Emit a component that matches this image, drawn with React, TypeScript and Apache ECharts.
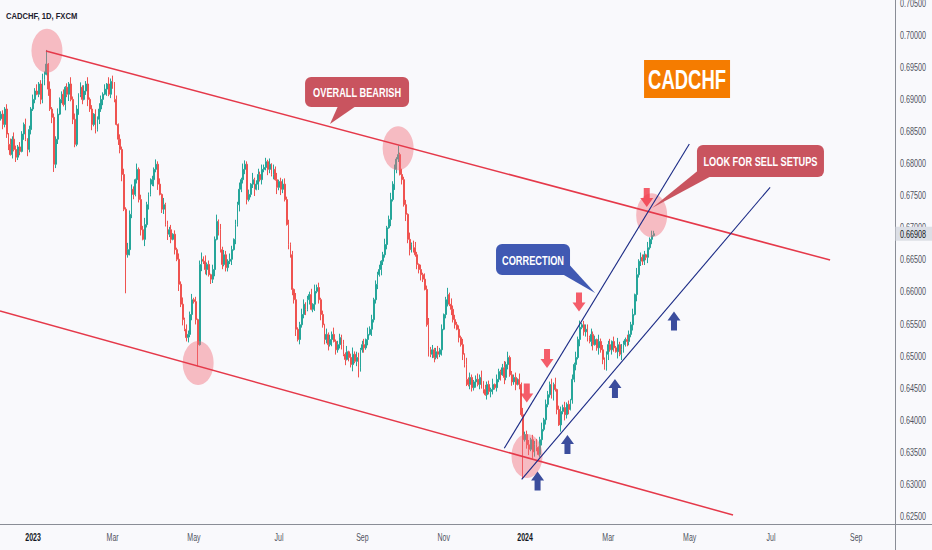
import React, { useEffect, useRef } from "react";
import * as echarts from "echarts";

// ---------- data ----------
// closing prices in pips (x 1e-4), one per trading day starting 2022-12-08
const closesPips = [
  6877, 6861, 6885, 6846, 6830, 6814, 6838, 6822, 6810, 6826,
  6819, 6846, 6861, 6838, 6822, 6853, 6885, 6900, 6913, 6908,
  6924, 6900, 6931, 6939, 6955, 6916, 6885, 6872, 6799, 6838,
  6877, 6900, 6908, 6892, 6919, 6908, 6924, 6900, 6869, 6830,
  6885, 6908, 6919, 6900, 6913, 6924, 6900, 6885, 6861, 6877,
  6853, 6869, 6885, 6900, 6908, 6916, 6924, 6908, 6928, 6924,
  6900, 6861, 6838, 6822, 6783, 6729, 6658, 6666, 6721, 6760,
  6752, 6775, 6791, 6744, 6697, 6682, 6705, 6736, 6752, 6768,
  6775, 6791, 6799, 6768, 6752, 6729, 6736, 6705, 6690, 6697,
  6682, 6690, 6666, 6651, 6612, 6581, 6557, 6542, 6529, 6534,
  6565, 6588, 6585, 6557, 6518, 6643, 6651, 6648, 6635, 6643,
  6627, 6620, 6635, 6682, 6710, 6697, 6666, 6643, 6658, 6638,
  6648, 6651, 6666, 6682, 6705, 6736, 6760, 6775, 6791, 6799,
  6744, 6752, 6768, 6775, 6760, 6768, 6783, 6775, 6791, 6794,
  6803, 6791, 6799, 6783, 6791, 6775, 6763, 6772, 6760, 6768,
  6744, 6705, 6674, 6658, 6604, 6588, 6542, 6526, 6549, 6565,
  6581, 6573, 6588, 6596, 6573, 6581, 6601, 6607, 6588, 6565,
  6549, 6526, 6534, 6518, 6526, 6534, 6523, 6510, 6518, 6529,
  6518, 6503, 6495, 6507, 6498, 6487, 6503, 6492, 6498, 6482,
  6510, 6518, 6513, 6526, 6534, 6542, 6557, 6588, 6612, 6627,
  6635, 6648, 6658, 6674, 6700, 6713, 6744, 6768, 6791, 6807,
  6814, 6783, 6775, 6736, 6721, 6682, 6666, 6674, 6669, 6658,
  6643, 6635, 6627, 6620, 6604, 6549, 6510, 6503, 6510, 6498,
  6507, 6503, 6510, 6542, 6565, 6588, 6596, 6581, 6573, 6557,
  6549, 6542, 6529, 6518, 6503, 6487, 6464, 6456, 6467, 6451,
  6460, 6464, 6456, 6467, 6460, 6448, 6440, 6456, 6445, 6448,
  6456, 6451, 6464, 6476, 6471, 6482, 6467, 6487, 6498, 6471,
  6460, 6467, 6456, 6464, 6456, 6409, 6370, 6378, 6362, 6355,
  6370, 6351, 6362, 6358, 6347, 6370, 6386, 6401, 6425, 6440,
  6456, 6440, 6456, 6448, 6417, 6393, 6414, 6420, 6409, 6425,
  6417, 6432, 6464, 6487, 6498, 6526, 6545, 6549, 6538, 6542,
  6529, 6523, 6534, 6518, 6526, 6513, 6523, 6510, 6495, 6482,
  6503, 6518, 6510, 6523, 6513, 6507, 6518, 6503, 6510, 6518,
  6526, 6523, 6534, 6549, 6565, 6596, 6627, 6648, 6654, 6648,
  6658, 6654, 6669, 6682, 6688, 6690.8,
];
const firstOpenPips = 6870;
// wick lengths, one digit per candle, in units of 1.5 pips
const wickUpDigits =
  "3425163742532614253724635182436235142736415263724153642517362415362745" +
  "3162547326425361724351426372543625147362415372635426415372643517246353" +
  "4261537245635241723652436173524162537244352614736524617352435136247352" +
  "4263517246315264735246251372645342617253246371534261532473624351627345" +
  "2546137254362714536241526372455263417352346152736425436172534162537246";
const wickDownDigits =
  "2534614253416273524135461726345142637253263514736242536172453164725364" +
  "5243617352273614526341527362453625417356254716352443615273455234716253" +
  "3642517364215364725346251372463546271534526143725643526173452643517264" +
  "3152746352546312734525361472634152637254362574153652436173524361527246" +
  "2754136253346251736451436272454256137352362541726325436173544362517245";
const highOverrides: Record<number, number> = { 24: 0.6977, 210: 0.6828 };
const lowOverrides: Record<number, number> = { 28: 0.6787, 66: 0.6598, 104: 0.6484, 189: 0.6467, 276: 0.631 };
const lastPrice = 0.66908;

// time axis labels
const timeLabelDates = [
  "2023-01-02", "2023-03-01", "2023-05-01", "2023-07-03", "2023-09-01", "2023-11-01",
  "2024-01-01", "2024-03-01", "2024-05-01", "2024-07-01", "2024-09-02",
];
const timeLabelTexts = ["2023", "Mar", "May", "Jul", "Sep", "Nov", "2024", "Mar", "May", "Jul", "Sep"];

// price axis
const priceMin = 0.62371;
const priceMax = 0.70548;
const priceStep = 0.005;
const priceTickValues = [
  0.625, 0.63, 0.635, 0.64, 0.645, 0.65, 0.655, 0.66, 0.665,
  0.67, 0.675, 0.68, 0.685, 0.69, 0.695, 0.7, 0.705,
];

// drawings, in [bar index, price]
const resistanceLine = [[23.8, 0.697539], [438.2, 0.664984]];
const supportLine = [[-0.5, 0.65704], [386.9, 0.625265]];
const correctionUpper = [[266.0, 0.635654], [363.8, 0.683053]];
const correctionLower = [[275.2, 0.630826], [406.5, 0.676308]];
const circleCenters = [[24.3, 0.69757], [104.2, 0.64894], [209.9, 0.68238], [278.0, 0.63446], [343.9, 0.67195]];
const sellArrows = [[277.9, 0.64427], [288.6, 0.64964], [305.5, 0.65844], [341.3, 0.67472]];
const buyArrows = [[283.6, 0.63056], [299.4, 0.63625], [324.5, 0.64497], [355.7, 0.65548]];
const calloutTexts = ["OVERALL BEARISH", "CORRECTION", "LOOK FOR SELL SETUPS"];
const calloutAnchors = [[188.2, 0.69115], [281.2, 0.66506], [401.4, 0.68041]];
const calloutTips = [[173.9, 0.68617], [314.0, 0.65984], [344.1, 0.67308]];
const symbolText = "CADCHF";
const symbolAnchor = [362.6, 0.69318];
const chartTitle = "CADCHF, 1D, FXCM";

// ---------- styles / layout ----------
const UP = "#26a69a";
const DOWN = "#ef5350";
const FONT = "'Liberation Sans', Arial, sans-serif";
const LABEL_GREY = "#50535e";
const calloutLayout = [
  { size: [104, 30], fill: "#c9545f", base: [[-19, 14], [-1, 14]] },
  { size: [74, 31], fill: "#4059b3", base: [[30, 15], [37, 6]] },
  { size: [127, 32], fill: "#c9545f", base: [[-63, 10], [-50, 15.5]] },
];

function buildTradingDays(): string[] {
  const out: string[] = [];
  const d = new Date(Date.UTC(2022, 11, 8));
  const end = Date.UTC(2024, 8, 30);
  while (d.getTime() <= end) {
    const wd = d.getUTCDay();
    if (wd !== 0 && wd !== 6) out.push(d.toISOString().slice(0, 10));
    d.setUTCDate(d.getUTCDate() + 1);
  }
  return out;
}

export default function App() {
  const ref = useRef<HTMLDivElement>(null);
  useEffect(() => {
    if (!ref.current) return;
    const chart = echarts.init(ref.current, undefined, { renderer: "svg" });
    const days = buildTradingDays();
    const candles = closesPips.map((c, i) => {
      const open = (i === 0 ? firstOpenPips : closesPips[i - 1]) / 1e4;
      const close = c / 1e4;
      const hi = highOverrides[i] ?? Math.max(open, close) + (Number(wickUpDigits[i]) * 1.5) / 1e4;
      const lo = lowOverrides[i] ?? Math.min(open, close) - (Number(wickDownDigits[i]) * 1.5) / 1e4;
      return [open, close, lo, hi];
    });
    const lineSeries = (data: number[][], color: string, width: number) => ({
      type: "line",
      xAxisIndex: 1,
      yAxisIndex: 0,
      data,
      symbol: "none",
      showSymbol: false,
      silent: true,
      z: 6,
      lineStyle: { color, width },
    });
    const downArrow = "path://M3.5,0 L9.5,0 L9.5,10 L13,10 L6.5,19 L0,10 L3.5,10 Z";
    const upArrow = "path://M6.5,0 L13,9 L9.5,9 L9.5,19 L3.5,19 L3.5,9 L0,9 Z";

    chart.setOption({
      animation: false,
      backgroundColor: "#f9f9fc",
      grid: { left: 0, right: 37, top: 0, bottom: 25, outerBoundsMode: "none", containLabel: false },
      xAxis: [
        {
          type: "category",
          data: days,
          boundaryGap: true,
          axisLine: { show: false },
          axisTick: { show: false },
          splitLine: { show: false },
          axisLabel: { show: false },
        },
        { type: "value", min: -0.5, max: days.length - 0.5, show: false },
      ],
      yAxis: [
        {
          type: "value",
          position: "right",
          min: priceMin,
          max: priceMax,
          minInterval: priceStep,
          maxInterval: priceStep,
          splitNumber: 16,
          axisLine: { show: false },
          axisTick: { show: false },
          splitLine: { show: false },
          axisLabel: { show: false },
        },
      ],
      graphic: [
        { type: "line", shape: { x1: 895.5, y1: 0, x2: 895.5, y2: 550 }, style: { stroke: "#8a8d96", lineWidth: 1 } },
        { type: "line", shape: { x1: 0, y1: 524.5, x2: 932, y2: 524.5 }, style: { stroke: "#8a8d96", lineWidth: 1 } },
        {
          type: "text",
          x: 6,
          y: 16,
          scaleX: 0.9,
          style: { text: chartTitle, font: `bold 8.5px ${FONT}`, fill: "#1e222d", verticalAlign: "middle" },
        },
      ],
      series: [
        {
          type: "candlestick",
          xAxisIndex: 0,
          yAxisIndex: 0,
          data: candles,
          barWidth: "70%",
          z: 3,
          itemStyle: { color: UP, color0: DOWN, borderColor: UP, borderColor0: DOWN, borderWidth: 1 },
        },
        {
          type: "scatter",
          xAxisIndex: 1,
          yAxisIndex: 0,
          data: circleCenters,
          symbol: "circle",
          symbolSize: [31, 44],
          silent: true,
          z: 4,
          itemStyle: { color: "rgba(242, 108, 120, 0.55)" },
        },
        lineSeries(resistanceLine, "#e5394a", 1.5),
        lineSeries(supportLine, "#e5394a", 1.5),
        lineSeries(correctionUpper, "#1a2a85", 1.1),
        lineSeries(correctionLower, "#1a2a85", 1.1),
        {
          type: "scatter",
          xAxisIndex: 1,
          yAxisIndex: 0,
          data: sellArrows,
          symbol: downArrow,
          symbolSize: [13, 19],
          silent: true,
          z: 8,
          itemStyle: { color: "#f23645" },
        },
        {
          type: "scatter",
          xAxisIndex: 1,
          yAxisIndex: 0,
          data: buyArrows,
          symbol: upArrow,
          symbolSize: [13, 19],
          silent: true,
          z: 8,
          itemStyle: { color: "#0b2285" },
        },
        // price-scale labels (condensed text, placed through the y scale)
        {
          type: "custom",
          xAxisIndex: 1,
          yAxisIndex: 0,
          silent: true,
          z: 1,
          data: priceTickValues.map((v) => [0, v]),
          encode: { y: 1 },
          renderItem: (params: any, api: any) => {
            const y = api.coord([0, api.value(1)])[1];
            const cs = params.coordSys;
            return {
              type: "text",
              x: cs.x + cs.width + 5,
              y,
              scaleX: 0.72,
              style: {
                text: api.value(1).toFixed(5),
                font: `10px ${FONT}`,
                fill: LABEL_GREY,
                align: "left",
                verticalAlign: "middle",
              },
            };
          },
        },
        // last price tag
        {
          type: "custom",
          xAxisIndex: 1,
          yAxisIndex: 0,
          silent: true,
          z: 12,
          data: [[0, lastPrice]],
          encode: { y: 1 },
          renderItem: (params: any, api: any) => {
            const y = api.coord([0, api.value(1)])[1];
            const cs = params.coordSys;
            const x0 = cs.x + cs.width + 0.5;
            return {
              type: "group",
              children: [
                { type: "rect", shape: { x: x0, y: y - 7, width: 37, height: 14 }, style: { fill: "#dcdfe6" } },
                {
                  type: "text",
                  x: x0 + 4.5,
                  y: y + 0.5,
                  scaleX: 0.72,
                  style: {
                    text: lastPrice.toFixed(5),
                    font: `10px ${FONT}`,
                    fill: "#131722",
                    align: "left",
                    verticalAlign: "middle",
                  },
                },
              ],
            };
          },
        },
        // time-scale labels
        {
          type: "custom",
          xAxisIndex: 1,
          yAxisIndex: 0,
          silent: true,
          z: 1,
          data: timeLabelDates.map((d) => [days.indexOf(d), priceMin]),
          encode: { x: 0 },
          renderItem: (params: any, api: any) => {
            const i = params.dataIndex;
            const x = api.coord([api.value(0), priceMin])[0];
            const cs = params.coordSys;
            const t = timeLabelTexts[i];
            const isYear = /^\d{4}$/.test(t);
            return {
              type: "text",
              x,
              y: cs.y + cs.height + 13,
              scaleX: 0.7,
              style: {
                text: t,
                font: `${isYear ? "bold " : ""}10px ${FONT}`,
                fill: isYear ? "#131722" : LABEL_GREY,
                align: "center",
                verticalAlign: "middle",
              },
            };
          },
        },
        {
          type: "custom",
          xAxisIndex: 1,
          yAxisIndex: 0,
          silent: true,
          z: 10,
          data: calloutAnchors.map((a, i) => [a[0], a[1], calloutTips[i][0], calloutTips[i][1]]),
          encode: { x: [0, 2], y: [1, 3] },
          renderItem: (params: any, api: any) => {
            const i = params.dataIndex;
            const c = api.coord([api.value(0), api.value(1)]);
            const t = api.coord([api.value(2), api.value(3)]);
            const L = calloutLayout[i];
            const w = L.size[0];
            const h = L.size[1];
            return {
              type: "group",
              children: [
                {
                  type: "polygon",
                  shape: {
                    points: [
                      [c[0] + L.base[0][0], c[1] + L.base[0][1]],
                      [c[0] + L.base[1][0], c[1] + L.base[1][1]],
                      [t[0], t[1]],
                    ],
                  },
                  style: { fill: L.fill },
                },
                { type: "rect", shape: { x: c[0] - w / 2, y: c[1] - h / 2, width: w, height: h, r: 6 }, style: { fill: L.fill } },
                {
                  type: "text",
                  x: c[0],
                  y: c[1] + 0.5,
                  scaleX: 0.71,
                  style: {
                    text: calloutTexts[i],
                    fill: "#ffffff",
                    font: `bold 13px ${FONT}`,
                    align: "center",
                    verticalAlign: "middle",
                  },
                },
              ],
            };
          },
        },
        {
          type: "custom",
          xAxisIndex: 1,
          yAxisIndex: 0,
          silent: true,
          z: 10,
          data: [symbolAnchor],
          renderItem: (_params: any, api: any) => {
            const c = api.coord([api.value(0), api.value(1)]);
            return {
              type: "group",
              children: [
                { type: "rect", shape: { x: c[0] - 43, y: c[1] - 19, width: 86, height: 38 }, style: { fill: "#f57c00" } },
                {
                  type: "text",
                  x: c[0],
                  y: c[1] + 1,
                  scaleX: 0.66,
                  style: {
                    text: symbolText,
                    fill: "#ffffff",
                    font: `bold 28px ${FONT}`,
                    align: "center",
                    verticalAlign: "middle",
                  },
                },
              ],
            };
          },
        },
      ],
    });
    return () => chart.dispose();
  }, []);
  return <div ref={ref} style={{ position: "fixed", left: 0, top: 0, width: 932, height: 550 }} />;
}
